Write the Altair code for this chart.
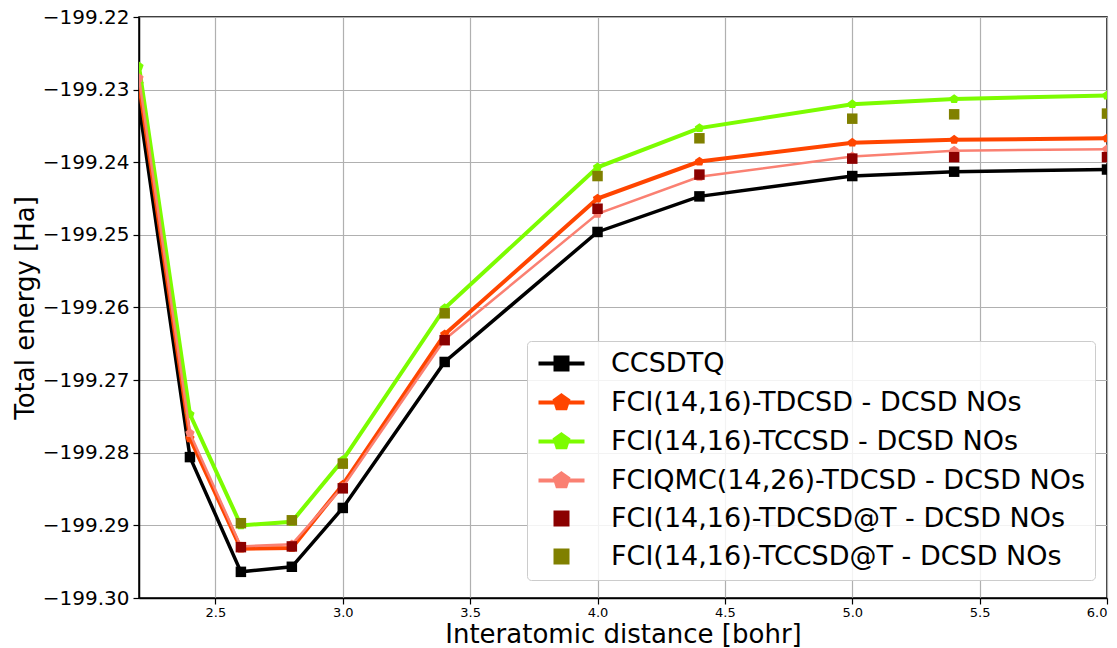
import altair as alt
import pandas as pd

# ---- data ----
x_full = [2.2, 2.4, 2.6, 2.8, 3.0, 3.4, 4.0, 4.4, 5.0, 5.4, 6.0]
x_at = [2.6, 2.8, 3.0, 3.4, 4.0, 4.4, 5.0, 5.4, 6.0]

ccsdtq = [-199.2321, -199.2806, -199.2964, -199.2957, -199.2876, -199.2675,
          -199.2496, -199.2447, -199.2419, -199.2413, -199.2410]
tdcsd = [-199.2292, -199.2780, -199.2932, -199.2931, -199.2844, -199.2637,
         -199.2450, -199.2399, -199.2373, -199.2369, -199.2367]
tccsd = [-199.2268, -199.2747, -199.2900, -199.2895, -199.2810, -199.2601,
         -199.2407, -199.2353, -199.2320, -199.2313, -199.2308]
fciqmc = [-199.2284, -199.2773, -199.2929, -199.2926, -199.2847, -199.2644,
          -199.2471, -199.2420, -199.2392, -199.2384, -199.2382]
tdcsd_t = [-199.2930, -199.2929, -199.2849, -199.2645, -199.2464, -199.2417,
           -199.2395, -199.2393, -199.2393]
tccsd_t = [-199.2897, -199.2893, -199.2815, -199.2608, -199.2419, -199.2367,
           -199.2340, -199.2334, -199.2333]

names = ["CCSDTQ",
         "FCI(14,16)-TDCSD - DCSD NOs",
         "FCI(14,16)-TCCSD - DCSD NOs",
         "FCIQMC(14,26)-TDCSD - DCSD NOs",
         "FCI(14,16)-TDCSD@T - DCSD NOs",
         "FCI(14,16)-TCCSD@T - DCSD NOs"]
colors = ["#000000", "#ff4500", "#7cfc00", "#fa8072", "#8b0000", "#808000"]

x_ticks = [2.5, 3.0, 3.5, 4.0, 4.5, 5.0, 5.5, 6.0]
y_ticks = [-199.30, -199.29, -199.28, -199.27, -199.26, -199.25, -199.24, -199.23, -199.22]

series_x = [x_full, x_full, x_full, x_full, x_at, x_at]
series_y = [ccsdtq, tdcsd, tccsd, fciqmc, tdcsd_t, tccsd_t]

rows = []
for n, xs, ys in zip(names, series_x, series_y):
    for xv, yv in zip(xs, ys):
        rows.append({"series": n, "x": xv, "E": yv})
df = pd.DataFrame(rows)

PENT = "M0,-1L0.951,-0.309L0.588,0.809L-0.588,0.809L-0.951,-0.309Z"
SQ_LEG = "M-0.6,-0.6H0.6V0.6H-0.6Z"
PENT_LEG = "M0,-0.7L0.666,-0.216L0.412,0.566L-0.412,0.566L-0.666,-0.216Z"
LINE_LEG = "M-2.3,0H2.3"
legend_shapes = [LINE_LEG + SQ_LEG, LINE_LEG + PENT_LEG, LINE_LEG + PENT_LEG,
                 LINE_LEG + PENT_LEG, SQ_LEG, SQ_LEG]

xenc = alt.X("x:Q", scale=alt.Scale(domain=[2.2, 6.0], nice=False, zero=False),
             axis=alt.Axis(values=x_ticks, format=".1f", title="Interatomic distance [bohr]",
                           labelFontSize=13, titleFontSize=26, tickSize=6, labelPadding=2,
                           titleY=44, titleBaseline="alphabetic", grid=True))
yenc = alt.Y("E:Q", scale=alt.Scale(domain=[-199.30, -199.22], nice=False, zero=False),
             axis=alt.Axis(values=y_ticks, format=".2f", title="Total energy [Ha]",
                           labelFontSize=20, titleFontSize=26, tickSize=6, labelPadding=4,
                           titleX=-106, titleBaseline="alphabetic", grid=True))

cscale = alt.Scale(domain=names, range=colors)
col_nolegend = alt.Color("series:N", scale=cscale, legend=None)

leg = alt.Legend(title=None, orient="none", legendX=388, legendY=324,
                 labelFontSize=27, labelFont="DejaVu Sans", labelLimit=800,
                 symbolSize=400, symbolStrokeWidth=4, symbolOpacity=1,
                 symbolOffset=12, labelOffset=36, rowPadding=9, padding=9,
                 strokeColor="#cccccc", fillColor="rgba(255,255,255,0.85)",
                 cornerRadius=4)

base = alt.Chart(df)

legend_layer = base.mark_point(filled=True, opacity=0).encode(
    x=xenc, y=yenc,
    color=alt.Color("series:N", scale=cscale, legend=leg),
    stroke=alt.Stroke("series:N", scale=alt.Scale(domain=names, range=colors), legend=leg),
    shape=alt.Shape("series:N", scale=alt.Scale(domain=names, range=legend_shapes), legend=leg),
)

layers = [legend_layer]
line_specs = [(names[0], "square", 3.5, 110),
              (names[1], PENT, 4, 95),
              (names[2], PENT, 4, 95),
              (names[3], PENT, 2.5, 95)]
for n, shp, sw, sz in line_specs:
    sub = base.transform_filter(alt.datum.series == n)
    layers.append(sub.mark_line(strokeWidth=sw, clip=True).encode(x=xenc, y=yenc, color=col_nolegend))
    layers.append(sub.mark_point(filled=True, shape=shp, size=sz, opacity=1, clip=True)
                  .encode(x=xenc, y=yenc, color=col_nolegend))
for n in names[4:]:
    sub = base.transform_filter(alt.datum.series == n)
    layers.append(sub.mark_point(filled=True, shape="square", size=110, opacity=1, clip=True)
                  .encode(x=xenc, y=yenc, color=col_nolegend))

chart = alt.layer(*layers).properties(
    width=968, height=581,
    autosize=alt.AutoSizeParams(type="none"),
    padding={"left": 139, "top": 17, "right": 10, "bottom": 50},
    background="white",
).configure_axis(
    labelFont="DejaVu Sans", titleFont="DejaVu Sans", labelColor="black", titleColor="black",
    domainColor="black", domainWidth=1.5, tickColor="black", tickWidth=1.2,
    gridColor="#b0b0b0", gridWidth=1.2, titleFontWeight="normal",
).configure_view(stroke="black", strokeWidth=1.5)

chart.save("out.html", embed_options={"renderer": "svg", "actions": False})
